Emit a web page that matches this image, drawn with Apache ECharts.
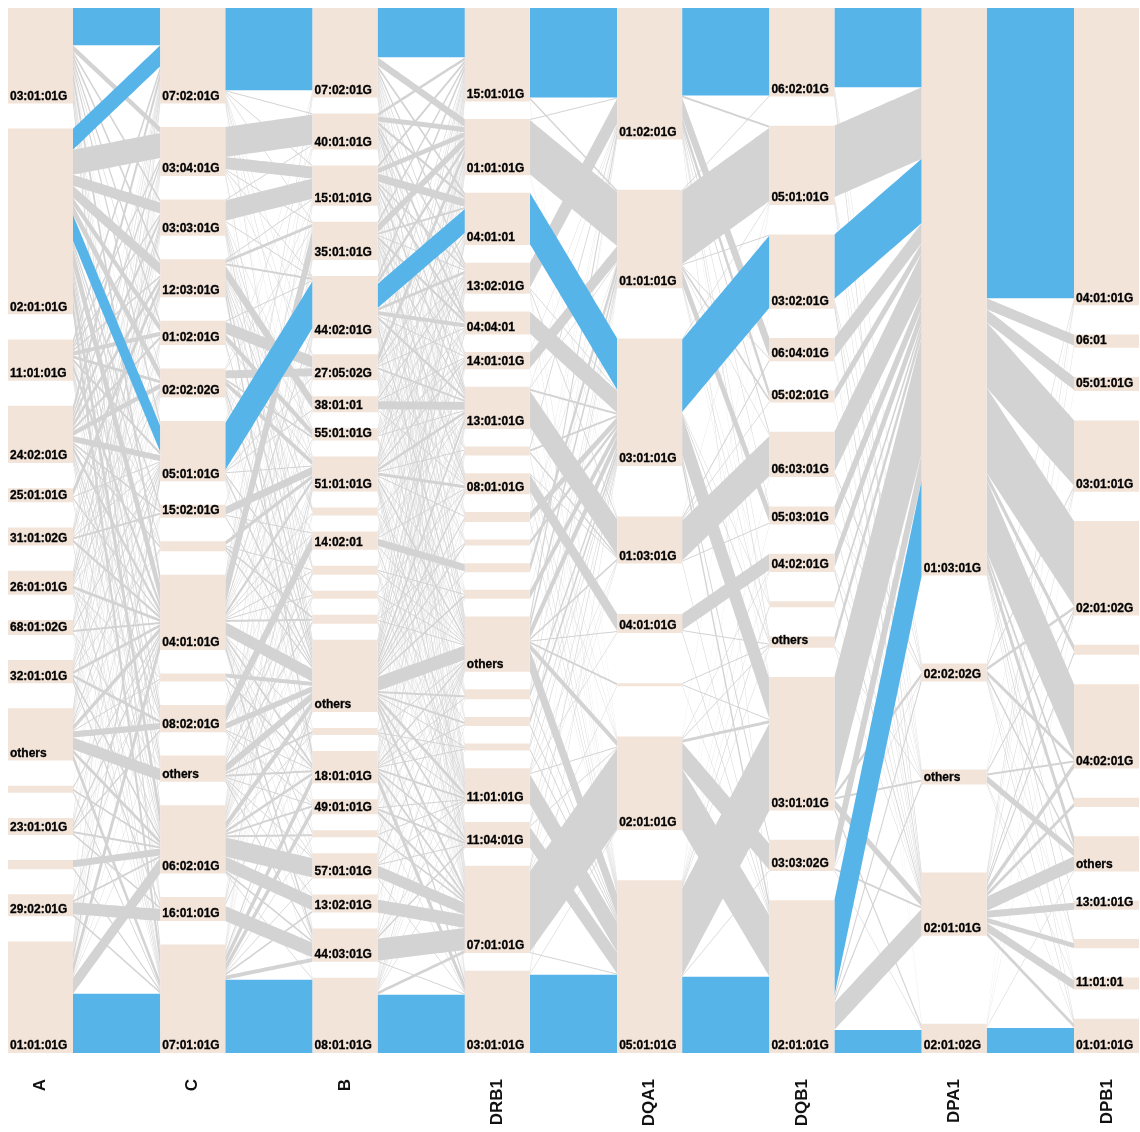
<!DOCTYPE html>
<html>
<head>
<meta charset="utf-8">
<title>HLA haplotype flows</title>
<script src="https://cdn.jsdelivr.net/npm/echarts@6/dist/echarts.min.js"></script>
<style>
  html, body { margin: 0; padding: 0; background: #ffffff; }
  #chart { width: 1140px; height: 1132px; }
</style>
</head>
<body>
<div id="chart"></div>
<script>
// Loci in display order (one column each)
const loci = ['A', 'C', 'B', 'DRB1', 'DQA1', 'DQB1', 'DPA1', 'DPB1'];

// Alleles per locus, top to bottom ('' = rare allele, drawn without a label)
const allelesA = ['03:01:01G','02:01:01G','11:01:01G','24:02:01G','25:01:01G','31:01:02G','26:01:01G','68:01:02G','32:01:01G','others','','23:01:01G','','29:02:01G','01:01:01G'];
const countsA  = [95,185,41,57,14,18,24,15,23,52,7,17,9,22,111];

const allelesC = ['07:02:01G','03:04:01G','03:03:01G','12:03:01G','01:02:01G','02:02:02G','05:01:01G','15:02:01G','','04:01:01G','','08:02:01G','others','06:02:01G','16:01:01G','07:01:01G'];
const countsC  = [95,49,36,38,24,29,60,13,10,75,8,27,26,68,24,108];

const allelesB = ['07:02:01G','40:01:01G','15:01:01G','35:01:01G','44:02:01G','27:05:02G','38:01:01','55:01:01G','51:01:01G','','14:02:01','','','','others','','18:01:01G','49:01:01G','','57:01:01G','13:02:01G','44:03:01G','08:01:01G'];
const countsB  = [89,36,40,38,62,26,16,12,35,8,18,9,8,9,72,7,32,15,7,25,18,33,75];

const allelesDRB1 = ['15:01:01G','01:01:01G','04:01:01','13:02:01G','04:04:01','14:01:01G','13:01:01G','','08:01:01G','','','','','others','','','','11:01:01G','11:04:01G','07:01:01G','03:01:01G'];
const countsDRB1  = [93,56,52,31,23,17,42,9,21,10,6,9,9,55,10,9,7,36,26,87,82];

const allelesDQA1 = ['01:02:01G','01:01:01G','03:01:01G','01:03:01G','04:01:01G','','02:01:01G','05:01:01G'];
const countsDQA1  = [131,98,127,47,19,3,93,172];

const allelesDQB1 = ['06:02:01G','05:01:01G','03:02:01G','06:04:01G','05:02:01G','06:03:01G','05:03:01G','04:02:01G','','others','03:01:01G','03:03:02G','02:01:01G'];
const countsDQB1  = [88,79,74,23,12,45,18,18,6,11,133,31,152];

const allelesDPA1 = ['01:03:01G','02:02:02G','others','02:01:01G','02:01:02G'];
const countsDPA1  = [565,18,15,63,29];

const allelesDPB1 = ['04:01:01G','06:01','05:01:01G','03:01:01G','02:01:02G','','04:02:01G','','others','13:01:01G','','11:01:01','01:01:01G'];
const countsDPB1  = [296,13,14,71,94,10,84,9,35,9,9,12,34];

// Haplotype counts between neighbouring loci: rows = left locus alleles, columns = right locus alleles
const flowAC = [
  [37,6,3,4,4,2,5,1,1,10,1,3,3,5,2,8],
  [21,25,11,12,7,10,26,4,3,18,2,5,5,17,3,16],
  [5,3,2,2,4,3,3,1,1,6,0,3,2,3,2,1],
  [8,4,5,5,3,5,6,2,2,5,1,3,2,3,0,3],
  [1,0,0,7,0,0,1,0,0,2,0,0,0,1,0,2],
  [2,2,3,1,0,1,1,2,0,3,0,0,0,0,0,3],
  [3,1,4,3,1,2,1,0,0,3,1,1,0,2,0,2],
  [2,1,3,1,0,1,2,0,0,2,0,0,1,1,0,1],
  [2,1,1,1,2,1,2,0,1,3,0,3,0,3,3,0],
  [5,2,2,1,1,1,3,1,1,5,1,6,12,4,0,7],
  [0,1,0,0,0,0,0,0,0,2,0,0,0,2,0,2],
  [2,1,0,0,0,1,2,1,0,3,1,2,0,2,2,0],
  [0,0,0,0,0,0,0,0,0,0,0,0,0,7,0,2],
  [2,1,0,0,0,0,1,0,0,2,0,0,0,2,12,2],
  [5,1,2,1,2,2,7,1,1,11,1,1,1,16,0,59]
];

const flowCB = [
  [82,1,1,1,0,1,1,0,2,1,0,0,0,1,3,0,0,1,0,0,0,0,0],
  [0,30,12,1,1,1,0,0,0,0,0,0,0,0,3,0,1,0,0,0,0,0,0],
  [0,1,20,0,1,0,0,1,0,2,0,2,1,0,4,1,1,1,1,0,0,0,0],
  [0,0,1,3,2,0,12,1,1,2,0,2,0,1,5,0,7,0,1,0,0,0,0],
  [0,0,0,0,1,12,0,6,1,0,0,0,0,0,3,0,1,0,0,0,0,0,0],
  [0,1,0,1,0,8,0,2,5,0,1,0,1,0,4,1,2,1,0,1,0,1,0],
  [1,0,1,0,47,1,1,0,1,0,0,0,2,0,3,0,1,0,0,1,0,1,0],
  [0,1,0,1,0,0,0,0,8,0,1,0,0,0,2,0,0,0,0,0,0,0,0],
  [0,0,0,0,0,0,0,0,4,0,0,1,0,2,2,0,0,0,0,0,0,1,0],
  [3,1,2,25,3,1,1,1,4,1,1,1,1,2,13,1,3,1,2,1,1,5,1],
  [0,0,0,0,0,0,0,0,0,0,0,0,0,0,4,0,2,0,0,0,0,2,0],
  [0,0,0,2,0,0,0,0,1,0,14,0,1,0,6,0,1,1,0,1,0,0,0],
  [0,1,0,2,1,0,0,0,1,0,0,2,0,2,8,2,2,1,0,1,1,2,0],
  [2,0,2,1,2,1,0,1,3,1,1,1,1,1,7,1,3,2,2,19,14,2,1],
  [0,0,1,0,2,0,0,0,3,0,0,0,1,0,2,0,0,0,0,0,0,15,0],
  [1,0,0,1,2,1,1,0,1,1,0,0,0,0,3,1,8,7,1,1,2,4,73]
];

const flowBDRB1 = [
  [49,8,3,3,2,1,2,1,2,1,0,1,0,4,1,0,1,2,2,4,2],
  [3,5,3,2,4,2,3,0,2,1,0,0,1,3,0,1,0,3,1,2,0],
  [3,5,8,2,3,0,3,0,2,0,1,0,0,3,1,0,0,3,1,3,2],
  [3,8,2,1,3,1,2,1,3,1,0,0,1,3,0,1,0,3,2,1,2],
  [4,4,24,3,4,1,3,1,1,1,1,0,0,4,1,1,1,1,2,4,1],
  [2,7,2,1,1,0,2,0,1,0,1,0,1,2,1,1,0,1,1,2,0],
  [1,1,0,2,0,1,8,0,1,0,0,0,0,1,0,0,0,1,0,0,0],
  [2,1,1,1,1,1,1,0,0,0,0,0,0,1,1,0,0,1,0,1,0],
  [3,3,1,2,1,2,3,1,3,1,0,0,1,3,1,0,1,3,3,2,1],
  [1,1,1,0,0,0,1,0,0,0,0,0,0,1,0,0,0,1,1,1,0],
  [1,1,0,1,1,1,1,0,1,0,0,7,0,1,0,0,0,2,0,1,0],
  [1,1,1,0,0,1,0,0,0,0,0,0,1,1,0,0,0,1,1,1,0],
  [1,1,0,1,0,0,0,0,1,0,0,0,0,1,0,1,0,1,0,1,0],
  [1,0,1,0,1,0,1,0,0,0,1,0,0,1,0,0,0,1,1,0,1],
  [4,3,4,4,2,3,5,2,3,2,2,1,2,14,2,2,1,4,3,5,4],
  [1,1,0,1,0,0,0,0,0,0,0,0,0,1,0,0,1,1,0,1,0],
  [2,2,1,1,0,1,2,1,0,1,0,0,1,2,1,1,1,2,2,3,8],
  [2,1,0,1,0,1,1,0,1,0,0,0,0,1,0,0,0,1,2,3,1],
  [1,1,0,0,0,0,1,0,0,0,0,0,0,1,0,0,0,1,0,2,0],
  [2,2,0,2,0,0,1,0,0,1,0,0,0,2,0,0,0,1,1,12,1],
  [2,0,0,1,0,0,1,0,0,0,0,0,0,1,0,0,0,0,0,13,0],
  [3,0,0,1,0,0,0,1,0,0,0,0,0,2,0,0,0,1,2,22,1],
  [1,0,0,1,0,1,1,1,0,1,0,0,1,2,1,1,1,1,1,3,58]
];

const flowDRB1DQA1 = [
  [89,2,0,0,0,0,1,1],
  [1,54,0,1,0,0,0,0],
  [0,0,51,0,0,0,0,1],
  [25,0,1,2,0,0,1,2],
  [0,0,22,0,0,0,0,1],
  [1,15,0,0,0,0,0,1],
  [1,1,2,36,0,0,1,1],
  [3,0,2,2,0,0,0,2],
  [0,0,0,1,17,0,1,2],
  [0,1,7,0,0,0,0,2],
  [1,0,4,0,0,0,0,1],
  [1,8,0,0,0,0,0,0],
  [0,1,8,0,0,0,0,0],
  [6,6,10,2,1,2,6,22],
  [2,2,4,0,0,0,0,2],
  [1,1,5,0,0,0,0,2],
  [0,3,2,0,0,0,0,2],
  [0,1,2,1,1,0,1,30],
  [0,1,2,1,0,0,1,21],
  [0,1,3,1,0,1,80,1],
  [0,1,2,0,0,0,1,78]
];

const flowDQA1DQB1 = [
  [87,2,0,20,8,3,2,0,2,3,1,0,3],
  [1,73,1,1,3,1,14,0,1,2,1,0,0],
  [0,1,72,0,0,0,0,0,1,2,40,4,7],
  [0,1,0,2,1,40,1,0,0,0,0,0,2],
  [0,0,0,0,0,0,0,16,0,1,0,0,2],
  [0,0,0,0,0,0,0,0,0,1,1,0,1],
  [0,1,0,0,0,0,0,1,0,1,3,26,61],
  [0,1,1,0,0,1,1,1,2,1,87,1,76]
];

const flowDQB1DPA1 = [
  [79,2,2,5,0],
  [71,2,2,3,1],
  [64,2,2,5,1],
  [20,0,1,2,0],
  [10,0,0,2,0],
  [40,2,1,2,0],
  [15,1,0,2,0],
  [14,0,1,3,0],
  [5,0,0,1,0],
  [9,0,1,1,0],
  [116,4,2,8,3],
  [27,1,0,2,1],
  [95,4,3,27,23]
];

const flowDPA1DPB1 = [
  [289,11,13,65,85,7,72,5,10,2,3,1,2],
  [2,0,0,2,3,0,4,0,3,0,1,1,2],
  [1,0,0,1,2,0,2,0,7,0,0,1,1],
  [3,2,1,2,3,3,6,4,14,7,5,9,4],
  [1,0,0,1,1,0,0,0,1,0,0,0,25]
];

// Allele pairs belonging to the most frequent extended haplotypes (drawn in blue)
const hlAC       = [['03:01:01G','07:02:01G'], ['02:01:01G','07:02:01G'], ['02:01:01G','05:01:01G'], ['01:01:01G','07:01:01G']];
const hlCB       = [['07:02:01G','07:02:01G'], ['05:01:01G','44:02:01G'], ['07:01:01G','08:01:01G']];
const hlBDRB1    = [['07:02:01G','15:01:01G'], ['44:02:01G','04:01:01'], ['08:01:01G','03:01:01G']];
const hlDRB1DQA1 = [['15:01:01G','01:02:01G'], ['04:01:01','03:01:01G'], ['03:01:01G','05:01:01G']];
const hlDQA1DQB1 = [['01:02:01G','06:02:01G'], ['03:01:01G','03:02:01G'], ['05:01:01G','02:01:01G']];
const hlDQB1DPA1 = [['06:02:01G','01:03:01G'], ['03:02:01G','01:03:01G'], ['02:01:01G','01:03:01G'], ['02:01:01G','02:01:02G']];
const hlDPA1DPB1 = [['01:03:01G','04:01:01G'], ['02:01:02G','01:01:01G']];

const alleleLists = [allelesA, allelesC, allelesB, allelesDRB1, allelesDQA1, allelesDQB1, allelesDPA1, allelesDPB1];
const countLists  = [countsA, countsC, countsB, countsDRB1, countsDQA1, countsDQB1, countsDPA1, countsDPB1];
const flows       = [flowAC, flowCB, flowBDRB1, flowDRB1DQA1, flowDQA1DQB1, flowDQB1DPA1, flowDPA1DPB1];
const highlights  = [hlAC, hlCB, hlBDRB1, hlDRB1DQA1, hlDQA1DQB1, hlDQB1DPA1, hlDPA1DPB1];

const NODE_COLOR = '#F3E4D9';
const LINK_GRAY = '#D3D3D3';
const LINK_BLUE = '#56B4E9';
const FONT = '"Liberation Sans", Arial, Helvetica, sans-serif';

// Sankey box
const CHART_H = 1132;
const BOX = { left: 8, right: 1, top: 8, bottom: 79 };
const BOX_H = CHART_H - BOX.top - BOX.bottom;
const NODE_GAP = 16;

const sum = arr => arr.reduce((s, v) => s + v, 0);
const nodeId = (d, i) => loci[d] + '#' + i;

// Same value-to-pixel factor the sankey layout uses
const ky = Math.min(...countLists.map(c => (BOX_H - (c.length - 1) * NODE_GAP) / sum(c)));

// Every column is spread over the full height with even gaps between its alleles
const nodes = [];
countLists.forEach((counts, d) => {
  const gap = (BOX_H - sum(counts) * ky) / (counts.length - 1);
  let y = 0;
  counts.forEach((v, i) => {
    nodes.push({
      name: nodeId(d, i),
      value: v,
      depth: d,
      localY: y / BOX_H,
      allele: alleleLists[d][i]
    });
    y += v * ky + gap;
  });
});

const isHighlighted = (d, i, j) =>
  highlights[d].some(([s, t]) => alleleLists[d][i] === s && alleleLists[d + 1][j] === t);

const grayLinks = [];
const blueLinks = [];
flows.forEach((matrix, d) => {
  matrix.forEach((row, i) => {
    row.forEach((v, j) => {
      if (!v) return;
      const hl = isHighlighted(d, i, j);
      (hl ? blueLinks : grayLinks).push({
        source: nodeId(d, i),
        target: nodeId(d + 1, j),
        value: v,
        lineStyle: { color: hl ? LINK_BLUE : LINK_GRAY }
      });
    });
  });
});

const chart = echarts.init(document.getElementById('chart'), null, { renderer: 'canvas' });
chart.setOption({
  backgroundColor: '#ffffff',
  animation: false,
  grid: { left: 40, right: 33, top: 8, bottom: 79 },
  xAxis: {
    type: 'category',
    data: loci,
    boundaryGap: false,
    axisLine: { show: false },
    axisTick: { show: false },
    splitLine: { show: false },
    axisLabel: {
      rotate: 90,
      margin: 26,
      fontSize: 17,
      fontWeight: 'bold',
      color: '#111111',
      fontFamily: FONT
    }
  },
  yAxis: { type: 'value', show: false },
  series: [{
    type: 'sankey',
    left: BOX.left,
    right: BOX.right,
    top: BOX.top,
    bottom: BOX.bottom,
    nodeWidth: 65,
    nodeGap: NODE_GAP,
    nodeAlign: 'left',
    layoutIterations: 0,
    draggable: false,
    silent: true,
    emphasis: { disabled: true },
    itemStyle: { color: NODE_COLOR, borderWidth: 0, opacity: 1 },
    lineStyle: { curveness: 0, opacity: 1 },
    label: {
      show: true,
      position: 'insideBottomLeft',
      distance: 1,
      offset: [1, 0],
      fontSize: 12,
      fontWeight: 'bold',
      color: '#000000',
      textBorderColor: '#000000',
      textBorderWidth: 0.3,
      fontFamily: FONT,
      formatter: p => p.data.allele || ''
    },
    data: nodes,
    links: grayLinks.concat(blueLinks)
  }]
});
</script>
</body>
</html>
